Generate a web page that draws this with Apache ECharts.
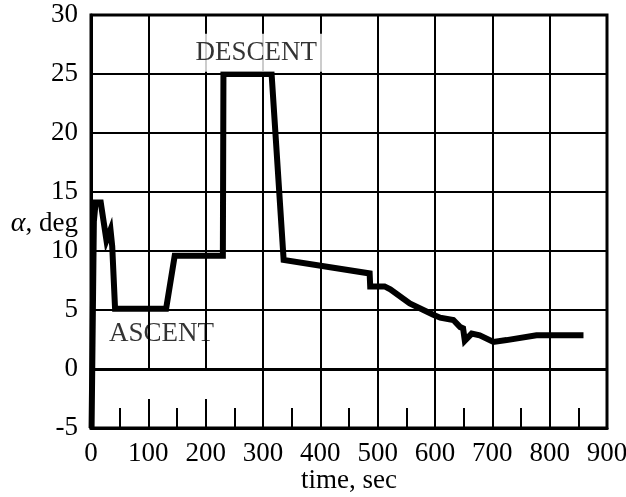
<!DOCTYPE html>
<html>
<head>
<meta charset="utf-8">
<title>Angle of attack vs time</title>
<script src="https://cdn.jsdelivr.net/npm/echarts@6/dist/echarts.min.js"></script>
<style>
  html, body { margin: 0; padding: 0; background: #fff; }
  #chart { width: 626px; height: 497px; }
</style>
</head>
<body>
<div id="chart"></div>
<script>
// Flight time (sec) and angle of attack alpha (deg)
const timeSec = [1, 5, 8, 17, 27, 34, 37, 42, 131, 146, 230, 231, 315, 336, 486, 487, 512, 522, 556, 597, 609, 632, 644, 649, 652, 664, 678, 702, 725, 777, 859];
const alphaDeg = [-5, 12.5, 14.1, 14.1, 10.9, 11.8, 10.4, 5.1, 5.1, 9.6, 9.6, 25, 25, 9.25, 8.1, 7.0, 7.0, 6.75, 5.55, 4.6, 4.35, 4.15, 3.55, 3.45, 2.4, 3.0, 2.85, 2.3, 2.45, 2.85, 2.85];

// Axis ranges and tick spacing
const xTicks = { min: 0, max: 900, step: 100 };
const yTicks = { min: -5, max: 30, step: 5 };

// Phase annotations: label text and anchor in data units
const phaseLabels = ['DESCENT', 'ASCENT'];
const phaseTime = [290, 123];
const phaseAlpha = [26.8, 3.0];

const serif = '"Liberation Serif", "DejaVu Serif", serif';
const ink = '#000';
const none = 'rgba(0,0,0,0)';

// Plot frame in pixels
const frame = { left: 91, right: 19, top: 15, bottom: 69 };

const chart = echarts.init(document.getElementById('chart'), null, { renderer: 'canvas' });

// Below the zero line the 100 and 200 s grid lines are left out; only ticks remain there
const lowerSplitColors = [ink, none, none, ink, ink, ink, ink, ink, ink, ink];

const hiddenAxisBits = {
  axisLine: { show: false }, axisTick: { show: false }, axisLabel: { show: false }
};

chart.setOption({
  backgroundColor: '#fff',
  animation: false,
  grid: [
    {
      left: frame.left, right: frame.right, top: frame.top, bottom: frame.bottom,
      show: true, borderColor: ink, borderWidth: 3, backgroundColor: 'transparent',
      containLabel: false, outerBoundsMode: 'none'
    },
    {
      // band from alpha = 0 up to the top of the frame
      left: frame.left, right: frame.right, top: frame.top,
      bottom: frame.bottom + (497 - frame.top - frame.bottom) * 5 / 35,
      show: false, containLabel: false, outerBoundsMode: 'none'
    }
  ],
  xAxis: [
    {
      type: 'value', gridIndex: 0,
      min: xTicks.min, max: xTicks.max, interval: xTicks.step,
      name: 'time, sec',
      nameLocation: 'middle',
      nameGap: 39,
      nameMoveOverlap: false,
      nameTextStyle: { fontFamily: serif, fontSize: 27, color: ink },
      axisLine: { show: true, onZero: false, lineStyle: { color: ink, width: 3 } },
      axisTick: { show: true, inside: true, length: 29, lineStyle: { color: ink, width: 2 } },
      minorTick: { show: true, splitNumber: 2, length: 20, lineStyle: { color: ink, width: 2 } },
      axisLabel: { fontFamily: serif, fontSize: 27, color: ink, margin: 12 },
      splitLine: { show: true, lineStyle: { color: lowerSplitColors, width: 2 } }
    },
    Object.assign({
      type: 'value', gridIndex: 1,
      min: xTicks.min, max: xTicks.max, interval: xTicks.step,
      splitLine: { show: true, lineStyle: { color: ink, width: 2 } }
    }, hiddenAxisBits)
  ],
  yAxis: [
    {
      type: 'value', gridIndex: 0,
      min: yTicks.min, max: yTicks.max, interval: yTicks.step,
      axisLine: { show: true, lineStyle: { color: ink, width: 3 } },
      axisTick: { show: false },
      axisLabel: { fontFamily: serif, fontSize: 27, color: ink, margin: 13 },
      splitLine: { show: true, lineStyle: { color: ink, width: 2 } }
    },
    Object.assign({
      type: 'value', gridIndex: 1,
      min: 0, max: yTicks.max, interval: yTicks.step,
      splitLine: { show: false }
    }, hiddenAxisBits)
  ],
  graphic: [
    {
      type: 'text',
      x: 78, y: 224, z: 20,
      style: {
        text: '{a|α}, deg',
        align: 'right', verticalAlign: 'middle',
        fontFamily: serif, fontSize: 27, fill: ink,
        rich: { a: { fontFamily: serif, fontSize: 28, fontStyle: 'italic', fill: ink } }
      }
    }
  ],
  series: [
    {
      type: 'line',
      xAxisIndex: 0, yAxisIndex: 0,
      data: timeSec.map((t, i) => [t, alphaDeg[i]]),
      symbol: 'none',
      lineStyle: { color: ink, width: 6, join: 'miter', cap: 'butt' },
      z: 5,
      markLine: {
        silent: true, symbol: 'none', label: { show: false },
        lineStyle: { color: ink, width: 3, type: 'solid' },
        data: [{ yAxis: 0 }]
      }
    },
    {
      type: 'scatter',
      xAxisIndex: 0, yAxisIndex: 0,
      symbolSize: 0,
      silent: true,
      z: 10,
      data: phaseLabels.map((n, i) => ({
        name: n,
        value: [phaseTime[i], phaseAlpha[i]],
        label: n === 'DESCENT'
          ? { backgroundColor: '#fff', padding: [11, 6, 0, 4] }
          : {}
      })),
      label: {
        show: true, position: 'inside', formatter: '{b}',
        fontFamily: serif, fontSize: 27, color: ink
      }
    }
  ]
});
</script>
</body>
</html>
